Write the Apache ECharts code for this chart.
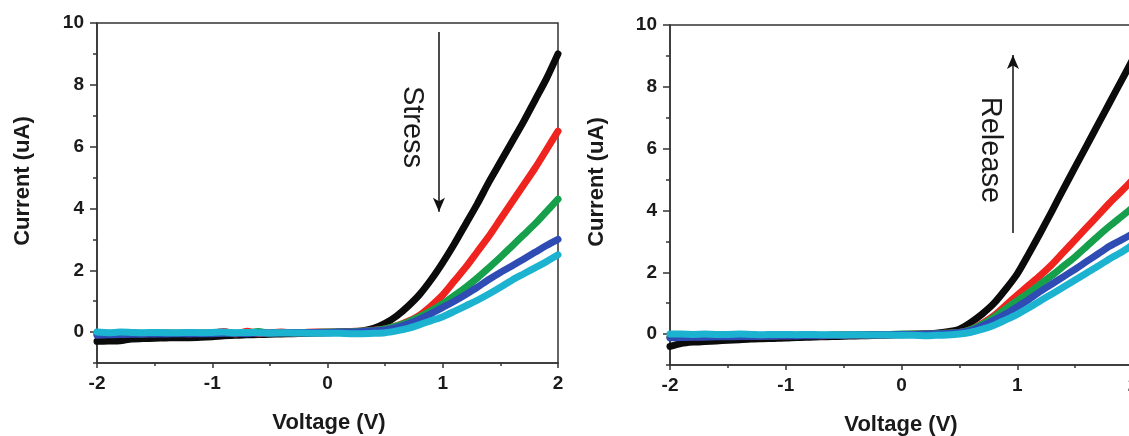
<!DOCTYPE html>
<html>
<head>
<meta charset="utf-8">
<script src="https://cdn.jsdelivr.net/npm/echarts@6/dist/echarts.min.js"></script>
<style>
html,body{margin:0;padding:0;background:#fff;}
#chart{width:1129px;height:436px;}
</style>
</head>
<body>
<div id="chart"></div>
<script>
// Voltage samples (V)
const voltage = [-2.0,-1.9,-1.8,-1.7,-1.6,-1.5,-1.4,-1.3,-1.2,-1.1,-1.0,-0.9,-0.8,-0.7,-0.6,-0.5,-0.4,-0.3,-0.2,-0.1,0.0,
  0.1,0.2,0.3,0.4,0.5,0.6,0.7,0.8,0.9,1.0,1.1,1.2,1.3,1.4,1.5,1.6,1.7,1.8,1.9,2.0];

// Left panel: Stress (current, uA)
const stressBlack = [-0.30,-0.29,-0.28,-0.22,-0.21,-0.20,-0.19,-0.18,-0.18,-0.17,-0.15,-0.12,-0.10,-0.09,-0.08,-0.07,-0.06,-0.05,-0.04,-0.03,-0.02,
  0.00,0.01,0.04,0.12,0.28,0.52,0.84,1.22,1.70,2.25,2.85,3.50,4.15,4.85,5.50,6.15,6.80,7.50,8.20,9.00];
const stressRed = [-0.06,-0.05,-0.05,-0.04,-0.05,-0.04,-0.03,-0.04,-0.03,-0.04,-0.03,0.02,-0.06,0.03,-0.05,-0.02,0.00,-0.03,-0.01,0.00,0.00,
  0.00,0.02,0.03,0.06,0.10,0.20,0.35,0.55,0.85,1.20,1.65,2.10,2.60,3.10,3.65,4.20,4.75,5.30,5.90,6.50];
const stressGreen = [-0.05,-0.04,-0.05,-0.04,-0.04,-0.05,-0.03,-0.04,-0.04,-0.03,-0.03,-0.02,-0.04,-0.03,0.02,-0.04,-0.03,-0.02,-0.02,-0.01,0.00,
  0.00,0.01,0.03,0.05,0.10,0.20,0.33,0.50,0.70,0.92,1.18,1.45,1.75,2.08,2.42,2.78,3.14,3.50,3.90,4.30];
const stressBlue = [-0.10,-0.09,-0.08,-0.07,-0.07,-0.06,-0.06,-0.05,-0.06,-0.05,-0.05,-0.04,-0.04,-0.05,-0.03,-0.03,-0.03,-0.02,-0.02,-0.01,-0.01,
  0.00,0.00,0.02,0.04,0.07,0.15,0.27,0.42,0.60,0.80,1.00,1.22,1.45,1.70,1.93,2.14,2.36,2.58,2.80,3.00];
const stressCyan = [0.00,-0.02,0.00,-0.01,-0.02,-0.01,-0.02,-0.02,-0.01,-0.02,-0.01,0.00,-0.02,-0.01,-0.02,-0.03,-0.02,-0.03,-0.03,-0.04,-0.04,
  -0.04,-0.05,-0.05,-0.04,-0.02,0.04,0.12,0.24,0.37,0.50,0.67,0.85,1.03,1.23,1.45,1.68,1.88,2.08,2.28,2.50];

// Right panel: Release (current, uA)
const releaseBlack = [-0.40,-0.30,-0.26,-0.24,-0.22,-0.20,-0.18,-0.16,-0.15,-0.14,-0.13,-0.11,-0.10,-0.09,-0.08,-0.07,-0.06,-0.05,-0.04,-0.03,-0.02,
  -0.01,0.00,0.03,0.08,0.16,0.38,0.66,1.00,1.45,1.95,2.60,3.28,3.98,4.70,5.40,6.10,6.80,7.50,8.20,8.90];
const releaseRed = [-0.10,-0.09,-0.09,-0.08,-0.08,-0.07,-0.07,-0.06,-0.06,-0.05,-0.05,-0.04,-0.02,-0.05,-0.04,-0.03,-0.03,-0.02,-0.02,-0.01,-0.01,
  0.00,0.00,0.01,0.03,0.05,0.15,0.35,0.60,0.93,1.26,1.58,1.90,2.25,2.65,3.05,3.45,3.85,4.25,4.62,5.00];
const releaseGreen = [-0.10,-0.09,-0.08,-0.08,-0.07,-0.07,-0.06,-0.06,-0.05,-0.05,-0.04,-0.04,-0.03,-0.04,-0.03,-0.03,-0.02,-0.02,-0.01,-0.01,0.00,
  0.00,0.00,0.01,0.03,0.05,0.15,0.32,0.55,0.82,1.08,1.34,1.62,1.90,2.20,2.50,2.84,3.18,3.50,3.80,4.10];
const releaseBlue = [-0.12,-0.11,-0.10,-0.10,-0.09,-0.09,-0.08,-0.08,-0.07,-0.07,-0.06,-0.06,-0.05,-0.05,-0.04,-0.04,-0.03,-0.03,-0.02,-0.02,-0.01,
  -0.01,0.00,0.01,0.02,0.05,0.12,0.27,0.45,0.65,0.88,1.12,1.38,1.62,1.86,2.10,2.35,2.60,2.85,3.05,3.25];
const releaseCyan = [0.00,0.00,-0.01,0.00,-0.01,-0.01,0.00,-0.01,-0.02,-0.01,-0.01,-0.02,-0.01,-0.02,-0.02,-0.03,-0.02,-0.03,-0.03,-0.03,-0.04,
  -0.04,-0.05,-0.04,-0.03,0.00,0.06,0.16,0.29,0.46,0.64,0.85,1.08,1.30,1.52,1.75,1.98,2.20,2.44,2.65,2.90];

// Tick labels
const yMajorTicks = [0, 2, 4, 6, 8, 10];
const yMinorTicks = [-1, 1, 3, 5, 7, 9];

// Arrow annotations (data coordinates: [V, uA])
const stressArrow = [[0.967, 9.71], [0.967, 3.89]];
const releaseArrow = [[0.963, 3.27], [0.963, 9.03]];

const FONT = '"Liberation Sans", Arial, Helvetica, sans-serif';
const colors = ['#0b0b0b', '#f0241f', '#17a04b', '#2e4cb3', '#1cb3d1'];
const AX = '#333';

function pairs(arr) { return voltage.map((v, i) => [v, arr[i]]); }

const grids = [
  {left: 97, top: 23, width: 461, height: 340},
  {left: 670, top: 25, width: 463, height: 340}
];

function xAxisFor(gi) {
  return {
    type: 'value', gridIndex: gi, min: -2, max: 2, interval: 1,
    axisLine: {show: true, onZero: false, lineStyle: {color: AX, width: 1.5}},
    axisTick: {show: true, length: 5, lineStyle: {color: AX, width: 1.5}},
    minorTick: {show: true, splitNumber: 2, length: 3, lineStyle: {color: AX, width: 1.5}},
    splitLine: {show: false}, minorSplitLine: {show: false},
    axisLabel: {fontSize: 19, fontWeight: 'bold', color: '#1a1a1a', fontFamily: FONT, margin: 11}
  };
}
function yAxisMajor(gi) {
  return {
    type: 'value', gridIndex: gi, min: -1, max: 10, interval: 1, position: 'left',
    axisLine: {show: true, onZero: false, lineStyle: {color: AX, width: 1.5}},
    axisTick: {show: true, length: 7, customValues: yMajorTicks, lineStyle: {color: AX, width: 1.5}},
    splitLine: {show: false},
    axisLabel: {customValues: yMajorTicks, fontSize: 19, fontWeight: 'bold', color: '#1a1a1a', fontFamily: FONT, margin: 13}
  };
}
function yAxisMinor(gi) {
  return {
    type: 'value', gridIndex: gi, min: -1, max: 10, interval: 1, position: 'right',
    offset: -grids[gi].width,
    axisLine: {show: false, onZero: false},
    axisTick: {show: true, inside: true, length: 4, customValues: yMinorTicks, lineStyle: {color: AX, width: 1.5}},
    splitLine: {show: false},
    axisLabel: {show: false}
  };
}

const names = ['c1', 'c2', 'c3', 'c4', 'c5'];
function panelSeries(gi, arrs, arrow) {
  return arrs.map((arr, k) => {
    const s = {
      type: 'line', name: names[k] + '_' + gi,
      xAxisIndex: gi, yAxisIndex: gi * 2,
      data: pairs(arr), showSymbol: false, symbol: 'none', smooth: 0.25,
      lineStyle: {color: colors[k], width: 7, join: 'round', cap: 'round'},
      itemStyle: {color: colors[k]},
      z: 2 + k, silent: true, animation: false
    };
    if (k === 0) {
      s.markLine = {
        silent: true, animation: false,
        symbol: ['none', 'arrow'], symbolSize: [9, 14],
        label: {show: false},
        lineStyle: {color: '#111', width: 1.5, type: 'solid', cap: 'butt'},
        data: [[{coord: arrow[0]}, {coord: arrow[1]}]]
      };
    }
    return s;
  });
}

const chart = echarts.init(document.getElementById('chart'), null, {renderer: 'canvas'});
chart.setOption({
  backgroundColor: '#ffffff',
  animation: false,
  grid: grids.map(g => Object.assign({show: true, borderColor: AX, borderWidth: 1.5, backgroundColor: 'transparent', containLabel: false, outerBoundsMode: 'none'}, g)),
  xAxis: [xAxisFor(0), xAxisFor(1)],
  yAxis: [yAxisMajor(0), yAxisMinor(0), yAxisMajor(1), yAxisMinor(1)],
  series: [].concat(
    panelSeries(0, [stressBlack, stressRed, stressGreen, stressBlue, stressCyan], stressArrow),
    panelSeries(1, [releaseBlack, releaseRed, releaseGreen, releaseBlue, releaseCyan], releaseArrow)
  ),
  graphic: [
    {type: 'text', x: 23, y: 181, rotation: Math.PI / 2,
     style: {text: 'Current (uA)', fontSize: 22, fontWeight: 'bold', fontFamily: FONT, fill: '#1a1a1a', align: 'center', verticalAlign: 'middle'}},
    {type: 'text', x: 597, y: 182, rotation: Math.PI / 2,
     style: {text: 'Current (uA)', fontSize: 22, fontWeight: 'bold', fontFamily: FONT, fill: '#1a1a1a', align: 'center', verticalAlign: 'middle'}},
    {type: 'text', x: 329, y: 423,
     style: {text: 'Voltage (V)', fontSize: 22, fontWeight: 'bold', fontFamily: FONT, fill: '#1a1a1a', align: 'center', verticalAlign: 'middle'}},
    {type: 'text', x: 901, y: 425,
     style: {text: 'Voltage (V)', fontSize: 22, fontWeight: 'bold', fontFamily: FONT, fill: '#1a1a1a', align: 'center', verticalAlign: 'middle'}},
    {type: 'text', x: 412, y: 127, rotation: -Math.PI / 2,
     style: {text: 'Stress', fontSize: 29, fontFamily: FONT, fill: '#1a1a1a', align: 'center', verticalAlign: 'middle'}},
    {type: 'text', x: 990, y: 150, rotation: -Math.PI / 2,
     style: {text: 'Release', fontSize: 29, fontFamily: FONT, fill: '#1a1a1a', align: 'center', verticalAlign: 'middle'}}
  ]
});
</script>
</body>
</html>
